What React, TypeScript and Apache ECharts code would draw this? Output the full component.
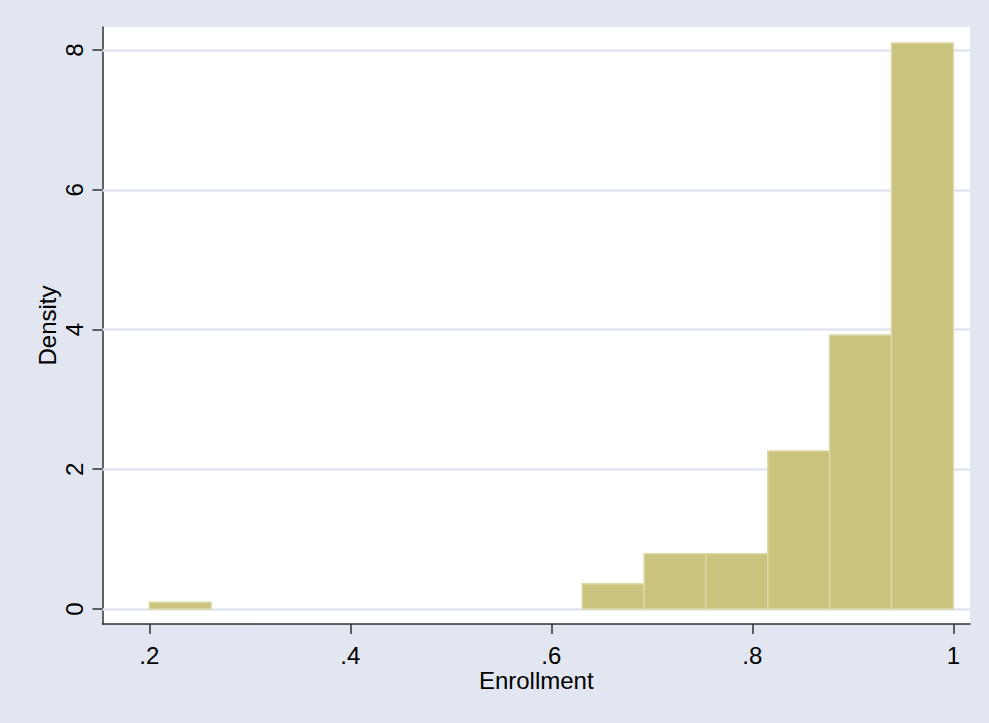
import React, { useEffect, useRef } from "react";
import * as echarts from "echarts";

// Histogram bin edges (13 equal-width bins from .2 to 1)
const binEdges = [0.2, 0.2615, 0.3231, 0.3846, 0.4462, 0.5077, 0.5692, 0.6308, 0.6923, 0.7538, 0.8154, 0.8769, 0.9385, 1.0];
// Density of each bin
const densities = [0.095, 0, 0, 0, 0, 0, 0, 0.36, 0.79, 0.79, 2.26, 3.92, 8.1];
// Tick values
const xTicks = [0.2, 0.4, 0.6, 0.8, 1];
const yTicks = [0, 2, 4, 6, 8];

const FONT = "'Liberation Sans', Arial, sans-serif";

export default function App() {
  const ref = useRef<HTMLDivElement>(null);

  useEffect(() => {
    document.body.style.margin = "0";
    if (!ref.current) return;
    const chart = echarts.init(ref.current, null, { renderer: "svg" });

    const barData = densities
      .map((d, i) => [binEdges[i], binEdges[i + 1], d])
      .filter((r) => r[2] > 0);

    const axisColor = "#2f2f2f";

    chart.setOption({
      animation: false,
      backgroundColor: "#E1E6F0",
      textStyle: { fontFamily: FONT },
      grid: {
        left: 102.5,
        right: 19,
        top: 27,
        bottom: 99,
        show: true,
        backgroundColor: "#ffffff",
        borderWidth: 0,
      },
      xAxis: {
        type: "value",
        min: 0.1534,
        max: 1.0166,
        name: "Enrollment",
        nameLocation: "middle",
        nameGap: 44,
        nameMoveOverlap: false,
        nameTextStyle: { fontSize: 24, color: "#000", fontFamily: FONT },
        axisLine: { show: true, onZero: false, lineStyle: { color: axisColor, width: 1.5 } },
        axisTick: {
          show: true,
          customValues: xTicks,
          length: 10,
          lineStyle: { color: axisColor, width: 1.5 },
        },
        axisLabel: {
          show: true,
          customValues: xTicks,
          margin: 19,
          fontSize: 24,
          color: "#000",
          fontFamily: FONT,
          formatter: (v: number) => String(v).replace(/^0\./, "."),
        },
        splitLine: { show: false },
      },
      yAxis: {
        type: "value",
        min: -0.215,
        max: 8.33,
        name: "Density",
        nameLocation: "middle",
        nameRotate: 90,
        nameGap: 43,
        nameMoveOverlap: false,
        nameTextStyle: { fontSize: 24, color: "#000", fontFamily: FONT },
        axisLine: { show: true, onZero: false, lineStyle: { color: axisColor, width: 1.5 } },
        axisTick: {
          show: true,
          customValues: yTicks,
          length: 10,
          lineStyle: { color: axisColor, width: 1.5 },
        },
        axisLabel: {
          show: true,
          customValues: yTicks,
          rotate: 90,
          margin: 16,
          fontSize: 24,
          color: "#000",
          fontFamily: FONT,
        },
        splitLine: { show: false },
      },
      series: [
        {
          type: "line",
          data: [],
          z: 1,
          silent: true,
          markLine: {
            z: 1,
            silent: true,
            symbol: ["none", "none"],
            label: { show: false },
            lineStyle: { color: "#E1E6F0", width: 2.5, type: "solid" },
            data: yTicks.map((v) => ({ yAxis: v })),
          },
        },
        {
          type: "custom",
          z: 10,
          data: barData,
          encode: { x: [0, 1], y: 2 },
          renderItem: (params: any, api: any) => {
            const x0 = api.value(0);
            const x1 = api.value(1);
            const h = api.value(2);
            const p0 = api.coord([x0, h]);
            const p1 = api.coord([x1, 0]);
            return {
              type: "rect",
              shape: { x: p0[0], y: p0[1], width: p1[0] - p0[0], height: p1[1] - p0[1] },
              style: { fill: "#CBC27E", stroke: "#DDD9A6", lineWidth: 1.5 },
            };
          },
        },
      ],
    });

    return () => chart.dispose();
  }, []);

  return <div ref={ref} style={{ width: 989, height: 723 }} />;
}
